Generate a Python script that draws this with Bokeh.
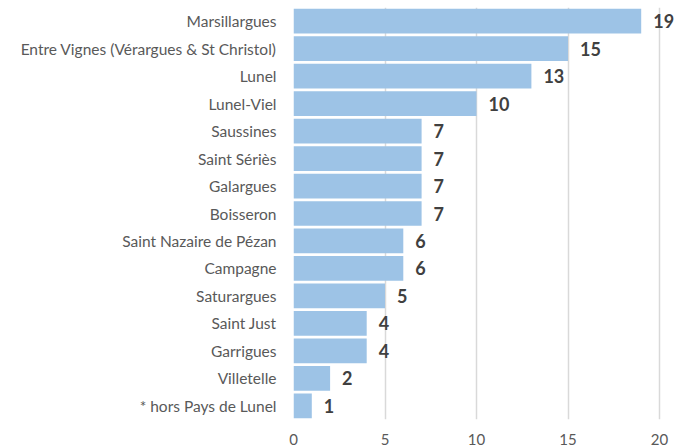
from bokeh.plotting import figure
from bokeh.models import ColumnDataSource, LabelSet, Range1d, FactorRange, FixedTicker
from bokeh.core.properties import value
from bokeh.embed import file_html
from bokeh.resources import INLINE

communes = ["Marsillargues", "Entre Vignes (Vérargues & St Christol)", "Lunel", "Lunel-Viel",
            "Saussines", "Saint Sériès", "Galargues", "Boisseron", "Saint Nazaire de Pézan",
            "Campagne", "Saturargues", "Saint Just", "Garrigues", "Villetelle", "* hors Pays de Lunel"]
values = [19, 15, 13, 10, 7, 7, 7, 7, 6, 6, 5, 4, 4, 2, 1]
x_ticks = [0, 5, 10, 15, 20]

src = ColumnDataSource(dict(cat=communes, val=values, lab=[str(v) for v in values]))

W = 675
LEFT = 293
PX20 = 366  # pixels from 0 to 20
x_end = 20 * (W - LEFT) / PX20

p = figure(width=W, height=447, output_backend="svg", toolbar_location=None,
           y_range=FactorRange(factors=communes[::-1], range_padding=0),
           x_range=Range1d(0, x_end),
           min_border_left=LEFT, min_border_right=0, min_border_top=7, min_border_bottom=26)
p.outline_line_color = None
p.hbar(y="cat", right="val", height=0.9, source=src, fill_color="#9DC3E6",
       line_color=None)

labels = LabelSet(x="val", y="cat", text="lab", source=src, x_offset=12,
                  text_baseline="middle", text_align="left", text_font=value("Lato"),
                  text_font_style="bold", text_font_size="18px", text_color="#404040")
p.add_layout(labels)

p.xaxis.ticker = FixedTicker(ticks=x_ticks)
p.xaxis.axis_line_color = None
p.xaxis.major_tick_line_color = None
p.xaxis.minor_tick_line_color = None
p.xaxis.major_label_text_font = "Lato"
p.xaxis.major_label_text_font_size = "15px"
p.xaxis.major_label_text_color = "#595959"
p.xaxis.major_label_standoff = 8

p.yaxis.axis_line_color = None
p.yaxis.major_tick_line_color = None
p.yaxis.minor_tick_line_color = None
p.yaxis.major_label_text_font = "Lato"
p.yaxis.major_label_text_font_size = "15.5px"
p.yaxis.major_label_text_color = "#595959"
p.yaxis.major_label_standoff = 11

p.ygrid.grid_line_color = None
p.xgrid.grid_line_color = "#D9D9D9"
p.xgrid.grid_line_width = 1.5
p.xgrid.level = "underlay"
p.xgrid.ticker = FixedTicker(ticks=x_ticks)

open("out.html", "w").write(file_html(p, INLINE))
